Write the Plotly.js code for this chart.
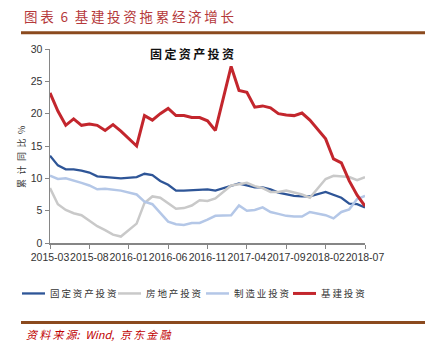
<!DOCTYPE html>
<html>
<head>
<meta charset="utf-8">
<script src="https://cdn.plot.ly/plotly-3.0.1.min.js"></script>
<style>html,body{margin:0;padding:0;background:#fff;}#chart{width:425px;height:362px;}</style>
</head>
<body>
<div id="chart"></div>
<script>
// ---- Data ----
var months = ["2015-03","2015-04","2015-05","2015-06","2015-07","2015-08","2015-09","2015-10","2015-11","2015-12",
  "2016-01","2016-02","2016-03","2016-04","2016-05","2016-06","2016-07","2016-08","2016-09","2016-10","2016-11","2016-12",
  "2017-01","2017-02","2017-03","2017-04","2017-05","2017-06","2017-07","2017-08","2017-09","2017-10","2017-11","2017-12",
  "2018-01","2018-02","2018-03","2018-04","2018-05","2018-06","2018-07"];
var tickLabels = ["2015-03","2015-08","2016-01","2016-06","2016-11","2017-04","2017-09","2018-02","2018-07"];
var fixedAsset = [13.5,12.0,11.4,11.4,11.2,10.9,10.3,10.2,10.2,10.0,
  null,10.2,10.7,10.5,9.6,9.0,8.1,8.1,8.2,8.3,8.3,8.1,
  null,8.9,9.2,8.9,8.6,8.6,8.3,7.8,7.5,7.3,7.2,7.2,
  null,7.9,7.5,7.0,6.1,6.0,5.5];
var realEstate = [8.5,6.0,5.1,4.6,4.3,3.5,2.6,2.0,1.3,1.0,
  null,3.0,6.2,7.2,7.0,6.1,5.3,5.4,5.8,6.6,6.5,6.9,
  null,8.9,9.1,9.3,8.8,8.5,7.9,7.9,8.1,7.8,7.5,7.0,
  null,9.9,10.4,10.3,10.2,9.7,10.2];
var manufacturing = [10.4,9.9,10.0,9.7,9.3,8.9,8.3,8.4,8.3,8.1,
  null,7.5,6.4,6.0,4.6,3.3,2.9,2.8,3.1,3.1,3.6,4.2,
  null,4.3,5.8,5.0,5.1,5.5,4.8,4.5,4.2,4.1,4.1,4.8,
  null,4.3,3.8,4.8,5.2,6.8,7.3];
var infrastructure = [23.2,20.4,18.2,19.2,18.2,18.4,18.2,17.4,18.3,17.3,
  null,15.0,19.7,19.0,20.0,20.8,19.7,19.7,19.4,19.4,18.9,17.4,
  null,27.3,23.6,23.3,21.0,21.2,20.9,20.0,19.8,19.7,20.1,19.0,
  null,16.1,13.0,12.4,9.6,7.4,5.7];
var seriesNames = ["固定资产投资","房地产投资","制造业投资","基建投资"];
var seriesColors = ["#2E5597","#C9C9C9","#B4C7E7","#C3262D"];
var seriesWidths = [2.3,2.5,2.5,3];

// ---- Layout helpers (pixel -> paper) ----
var L = 50, T = 49.3, W = 315, H = 193.4;
function px(x){ return (x - L) / W; }
function py(y){ return (T + H - y) / H; }
function sp(s){ return s.split("").join("\u2009"); }
var EN = "\u2002";

var seriesData = [fixedAsset, realEstate, manufacturing, infrastructure];
var traces = seriesData.map(function(d, i){
  return {type:"scatter", mode:"lines", x:months, y:d, name:seriesNames[i],
    connectgaps:true, line:{color:seriesColors[i], width:seriesWidths[i]}, hoverinfo:"skip"};
});

var cjk = "Noto Sans CJK SC";
var annotations = [
  {text: sp("图表") + EN + "6" + EN + sp("基建投资拖累经济增长"), xref:"paper", yref:"paper", x:px(22), y:py(16),
   xanchor:"left", yanchor:"middle", showarrow:false, font:{family:cjk, size:13.5, color:"#B5393B"}},
  {text: "<b>" + sp("固定资产投资") + "</b>", xref:"paper", yref:"paper", x:px(192), y:py(54),
   xanchor:"center", yanchor:"middle", showarrow:false, font:{family:cjk, size:12, color:"#111"}},
  {text: "累计同比%".split("").join(EN), xref:"paper", yref:"paper", x:px(21), y:py(157), textangle:-90,
   xanchor:"center", yanchor:"middle", showarrow:false, font:{family:cjk, size:9, color:"#333"}},
  {text: "<i>" + sp("资料来源") + ":" + EN + "Wind," + EN + sp("京东金融") + "</i>", xref:"paper", yref:"paper", x:px(24), y:py(333),
   xanchor:"left", yanchor:"middle", showarrow:false, font:{family:cjk, size:11, color:"#C00000"}}
];
var shapes = [
  {type:"line", xref:"paper", yref:"paper", x0:px(21), x1:px(425), y0:py(33), y1:py(33), line:{color:"#8B4A1E", width:3}},
  {type:"line", xref:"paper", yref:"paper", x0:px(21), x1:px(425), y0:py(322), y1:py(322), line:{color:"#8B4A1E", width:3}}
];
// manual legend
var legStarts = [22, 118, 206, 293];
for (var i = 0; i < 4; i++) {
  shapes.push({type:"line", xref:"paper", yref:"paper", x0:px(legStarts[i]), x1:px(legStarts[i]+23),
    y0:py(293), y1:py(293), line:{color:seriesColors[i], width:seriesWidths[i]}});
  annotations.push({text: sp(seriesNames[i]), xref:"paper", yref:"paper", x:px(legStarts[i]+26), y:py(293),
    xanchor:"left", yanchor:"middle", showarrow:false, font:{family:cjk, size:9.5, color:"#333"}});
}

var layout = {
  width:425, height:362,
  margin:{l:L, r:425 - L - W, t:T, b:362 - T - H, pad:0},
  paper_bgcolor:"#fff", plot_bgcolor:"#fff",
  showlegend:false,
  font:{family:"Liberation Sans, Arial, sans-serif", size:10, color:"#333"},
  xaxis:{type:"category", range:[0, months.length - 1], tickmode:"array", tickvals:tickLabels, ticktext:tickLabels,
    showline:true, linecolor:"#868686", linewidth:1.5, ticks:"outside", ticklen:4, tickcolor:"#868686",
    showgrid:false, zeroline:false, tickangle:0, tickfont:{size:10.5, color:"#333"}},
  yaxis:{range:[0,30], dtick:5, tick0:0, showline:true, linecolor:"#868686", linewidth:1.5,
    ticks:"outside", ticklen:4, tickcolor:"#868686", showgrid:false, zeroline:false, tickfont:{size:10.5, color:"#333"}},
  annotations:annotations, shapes:shapes
};
Plotly.newPlot("chart", traces, layout, {staticPlot:true, displayModeBar:false});
</script>
</body>
</html>
